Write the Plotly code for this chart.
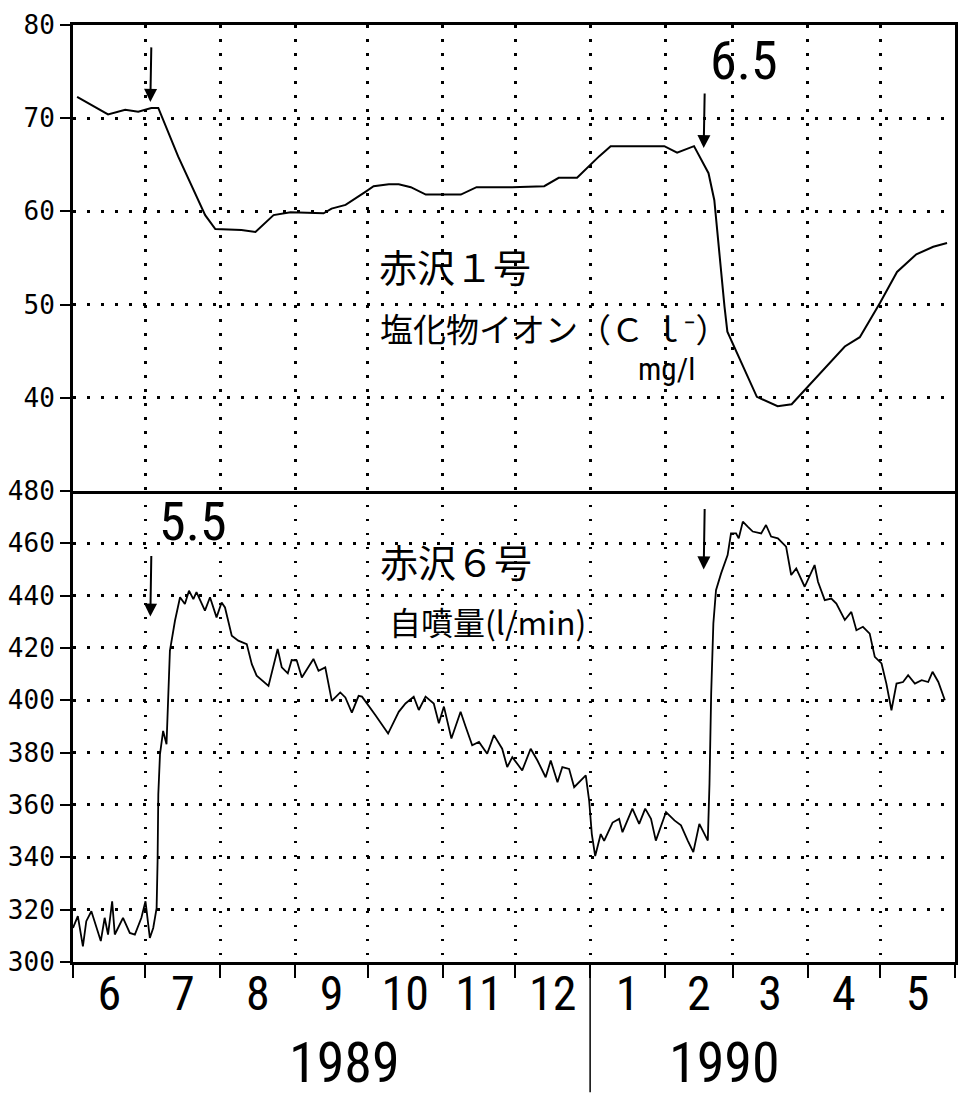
import pandas as pd
import plotly.graph_objects as go

# ---------------- data ----------------
START = "1989-06-01"
END = "1990-06-01"

# 赤沢1号  chloride ion (mg/l): days since 1989-06-01, value
cl_day = [1.7, 14.5, 21.6, 27, 32.4, 35.3, 43.5, 54.7, 58.9, 69.7, 75.5, 83, 90,
          103.7, 107, 112.8, 121, 124.4, 130.7, 134.8, 139.8, 146, 160.5, 167,
          181.7, 195, 201, 208.6, 217.7, 222.5, 238.5, 244.7, 250, 257, 263,
          265.4, 269.6, 270.8, 283, 291.6, 297.4, 307.8, 319.4, 325.6, 334, 341,
          349, 356, 361.7]
cl_val = [72.3, 70.4, 70.9, 70.7, 71.1, 71.1, 65.9, 59.6, 58.1, 58.0, 57.8, 59.6, 59.9,
          59.8, 60.3, 60.7, 62.1, 62.7, 62.9, 62.9, 62.6, 61.8, 61.8, 62.6,
          62.6, 62.7, 63.6, 63.6, 65.9, 67.0, 67.0, 67.0, 66.3, 67.0, 64.1,
          61.2, 49.8, 47.1, 40.1, 39.1, 39.3, 42.2, 45.5, 46.5, 50.2, 53.5,
          55.4, 56.2, 56.6]

# 赤沢6号  artesian flow (l/min): days since 1989-06-01, value
q_day = [0, 2, 4.1, 5.5, 7.6, 9.7, 11.5, 13.1, 14.5, 16.2,
         17.3, 20.7, 23.5, 25.6, 28.3, 30, 31.8, 33.2, 34.6, 35,
         35.3, 36, 37.3, 38.7, 39.4, 40.1, 42.2, 44.3, 46.3, 48,
         49.8, 51.1, 54.6, 56.7, 59.4, 61.5, 62.9, 65.7, 68.4, 71.9,
         74, 76, 80.9, 84.7, 86.4, 88.9, 90.5, 92.6, 94.7, 96.8,
         99.5, 101.6, 104.4, 107.1, 110.6, 112.7, 115.4, 118.2, 119.6, 125.1,
         130.4, 134.8, 137.6, 141, 143.1, 145.9, 149.3, 151.4, 153.5, 156.6,
         160.4, 162.5, 165.2, 168, 171.4, 174.2, 177.6, 179.7, 181.8, 185.9,
         189.4, 192.2, 195.6, 197.7, 200.5, 202.5, 205.3, 207.4, 210.2, 212.2,
         213.6, 214.7, 216.1, 218.4, 219.8, 223.3, 226, 227.4, 231.5, 234.3,
         236.8, 239.2, 241.2, 242.6, 245.4, 248.9, 251.6, 254.4, 256.7, 259.2,
         260.6, 262.7, 263.4, 264.1, 265, 266.1, 268.2, 270.9, 272.3, 274.4,
         275.5, 277.2, 279.2, 281.3, 284.8, 286.8, 288.9, 291.7, 295.1, 297.2,
         299.3, 302.8, 306.9, 308.3, 311.1, 313.8, 315.9, 319.4, 322.1, 324.2,
         326.9, 329.7, 331.8, 334.6, 336.6, 338.7, 340.8, 343.5, 345.6, 348.4,
         351.2, 353.9, 355.7, 358.1, 360.8]
q_val = [313.0, 317.5, 306.0, 315.6, 319.4, 313.0, 308.0, 316.9, 310.5, 323.2,
         310.5, 316.9, 311.1, 310.5, 316.9, 323.2, 309.2, 313.0, 320.6, 338.5,
         364.0, 379.4, 388.3, 383.2, 399.8, 418.9, 430.4, 439.4, 436.8, 441.9,
         438.7, 441.3, 434.3, 439.4, 431.7, 437.4, 435.5, 424.7, 422.8, 421.5,
         413.8, 409.4, 405.5, 419.6, 412.6, 410.3, 415.4, 415.2, 408.7, 411.9,
         415.8, 411.3, 412.6, 399.8, 403.0, 401.1, 395.3, 401.7, 401.4, 394.4,
         387.3, 395.6, 398.8, 401.4, 396.3, 401.4, 398.8, 391.2, 397.6, 385.4,
         395.6, 389.9, 382.8, 384.1, 379.6, 386.7, 381.5, 374.5, 378.3, 373.2,
         381.5, 377.0, 370.6, 377.0, 368.7, 374.5, 373.8, 366.8, 369.4, 371.3,
         361.7, 348.9, 340.5, 348.9, 346.3, 353.3, 354.7, 349.6, 358.6, 352.8,
         358.6, 354.7, 346.4, 350.3, 357.3, 354.1, 352.2, 346.4, 342.0, 352.8,
         350.3, 346.4, 368.1, 402.6, 429.4, 442.1, 448.5, 455.5, 463.8, 463.8,
         461.9, 468.3, 466.4, 464.5, 463.8, 467.0, 462.6, 461.9, 458.7, 447.9,
         450.4, 443.4, 451.7, 445.3, 438.3, 438.9, 437.0, 430.7, 433.8, 426.8,
         428.1, 425.5, 416.6, 414.1, 406.4, 396.2, 406.4, 407.0, 409.6, 406.4,
         407.7, 407.0, 410.9, 407.0, 400.0]

top_ticks = [40, 50, 60, 70, 80]
bottom_ticks = [300, 320, 340, 360, 380, 400, 420, 440, 460, 480]
year_labels = ["1989", "1990"]

# events (arrows): date, value
top_events = [("1989-07-03", 71.75), ("1990-02-17", 66.8)]
bottom_events = [("1989-07-03", 432.0), ("1990-02-17", 450.0)]

# ---------------- figure ----------------
t0 = pd.Timestamp(START)
cl_x = t0 + pd.to_timedelta(cl_day, unit="D")
q_x = t0 + pd.to_timedelta(q_day, unit="D")

NARROW = ("Liberation Sans Narrow, Noto Sans Condensed, Roboto Condensed, "
          "DejaVu Sans Condensed, Roboto, sans-serif")
MONO = "DejaVu Sans Mono, monospace"
CJK = "Noto Sans CJK JP, sans-serif"

fig = go.Figure()
fig.add_trace(go.Scatter(x=cl_x, y=cl_val, mode="lines", xaxis="x2", yaxis="y",
                         line=dict(color="black", width=2), showlegend=False))
fig.add_trace(go.Scatter(x=q_x, y=q_val, mode="lines", xaxis="x", yaxis="y2",
                         line=dict(color="black", width=1.8), showlegend=False))

split = 0.5027
GRID = dict(showgrid=True, gridcolor="black", gridwidth=2.5, griddash="2.5px,11.5px",
            automargin=False)

fig.update_layout(
    width=960, height=1095,
    margin=dict(l=73, r=5, t=25, b=133),
    paper_bgcolor="white", plot_bgcolor="white",
    xaxis=dict(type="date", range=[START, END], anchor="y2", domain=[0, 1],
               dtick="M1", tick0=START, tickformat="%-m", ticklabelmode="period",
               ticks="outside", ticklen=13, tickwidth=1.5, tickcolor="black",
               ticklabelstandoff=-26,
               showline=True, linecolor="black", linewidth=3,
               tickfont=dict(family=NARROW, size=48, color="black"),
               zeroline=False, **GRID),
    xaxis2=dict(type="date", range=[START, END], anchor="y", matches="x",
                dtick="M1", tick0=START, showticklabels=False, ticks="",
                showline=True, mirror=True, linecolor="black", linewidth=3,
                zeroline=False, **GRID),
    yaxis=dict(domain=[split, 1], anchor="x2", range=[30, 80], tickvals=top_ticks,
               ticks="outside", ticklen=10, tickwidth=1.5, tickcolor="black",
               showline=True, mirror=True, linecolor="black", linewidth=3,
               tickfont=dict(family=MONO, size=26, color="black"),
               zeroline=False, **GRID),
    yaxis2=dict(domain=[0, split], anchor="x", range=[300, 480], tickvals=bottom_ticks,
                ticks="outside", ticklen=10, tickwidth=1.5, tickcolor="black",
                showline=True, mirror=True, linecolor="black", linewidth=3,
                tickfont=dict(family=MONO, size=26, color="black"),
                zeroline=False, **GRID),
)

annotations = []
# event arrows
for (d, v) in top_events:
    annotations.append(dict(x=d, y=v, xref="x2", yref="y", text="", showarrow=True,
                            ax=1, ay=-56, arrowhead=2, arrowsize=1.3, arrowwidth=2,
                            arrowcolor="black"))
for (d, v) in bottom_events:
    annotations.append(dict(x=d, y=v, xref="x", yref="y2", text="", showarrow=True,
                            ax=1, ay=-62, arrowhead=2, arrowsize=1.3, arrowwidth=2,
                            arrowcolor="black"))

texts = [
    ("赤沢１号", 0.3447, 0.7428, "left", CJK, 38),
    ("塩化物イオン（Ｃ ｌ⁻）", 0.346, 0.6766, "left", CJK, 33),
    ("mg/l", 0.638, 0.632, "left", NARROW, 31),
    ("6.5", 0.7608, 0.9626, "center", NARROW, 54),
    ("5.5", 0.136, 0.4696, "center", NARROW, 54),
    ("赤沢６号", 0.3458, 0.429, "left", CJK, 38),
    ("自噴量(l/min)", 0.356, 0.364, "left", CJK, 32),
]
for (t, px, py, xa, fam, sz) in texts:
    annotations.append(dict(text=t, x=px, y=py, xref="paper", yref="paper",
                            xanchor=xa, yanchor="middle", showarrow=False,
                            font=dict(family=fam, size=sz, color="black")))

for lbl, px in zip(year_labels, [0.308, 0.739]):
    annotations.append(dict(text=lbl, x=px, y=-0.108, xref="paper", yref="paper",
                            xanchor="center", yanchor="middle", showarrow=False,
                            font=dict(family=NARROW, size=56, color="black")))

fig.update_layout(annotations=annotations)

# separator between years
fig.add_shape(type="line", xref="x", yref="paper", x0="1990-01-01", x1="1990-01-01",
              y0=-0.004, y1=-0.139, line=dict(color="black", width=1.5))

fig.write_html("out.html",
               config={"displayModeBar": False},
               post_script="document.body.style.margin='0';"
                           "document.body.style.overflow='hidden';")
